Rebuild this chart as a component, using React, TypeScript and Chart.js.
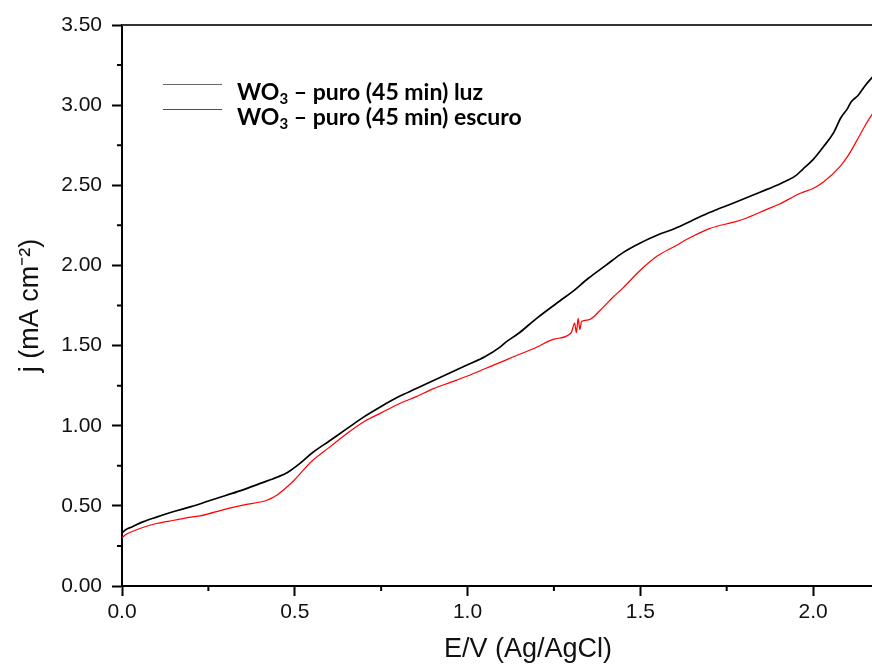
import { useEffect, useRef } from "react";
import { Chart, registerables } from "chart.js";

Chart.register(...registerables);

// Series: WO3 – puro (45 min) luz
const luzE = [0, 0.01, 0.03, 0.06, 0.1, 0.15, 0.2, 0.25, 0.3, 0.35, 0.4, 0.45, 0.48, 0.515, 0.55, 0.6, 0.65, 0.7, 0.75, 0.8, 0.85, 0.9, 0.95, 1.0, 1.05, 1.094, 1.11, 1.15, 1.2, 1.268, 1.3, 1.35, 1.4, 1.45, 1.5, 1.55, 1.6, 1.65, 1.7, 1.77, 1.85, 1.905, 1.95, 1.97, 2.0, 2.03, 2.06, 2.08, 2.1, 2.11, 2.13, 2.15, 2.17, 2.2];
const luzJ = [0.33, 0.35, 0.37, 0.40, 0.43, 0.465, 0.495, 0.53, 0.565, 0.60, 0.64, 0.68, 0.71, 0.765, 0.83, 0.905, 0.98, 1.055, 1.12, 1.18, 1.23, 1.28, 1.33, 1.38, 1.43, 1.49, 1.52, 1.58, 1.67, 1.78, 1.83, 1.92, 2.00, 2.08, 2.14, 2.19, 2.23, 2.28, 2.33, 2.39, 2.46, 2.51, 2.56, 2.60, 2.66, 2.74, 2.83, 2.92, 2.98, 3.02, 3.06, 3.12, 3.17, 3.24];

// Series: WO3 – puro (45 min) escuro
const escuroE = [0, 0.01, 0.03, 0.06, 0.1, 0.15, 0.2, 0.226, 0.3, 0.35, 0.419, 0.45, 0.496, 0.515, 0.55, 0.6, 0.65, 0.7, 0.75, 0.805, 0.85, 0.9, 0.95, 1.0, 1.05, 1.1, 1.133, 1.2, 1.25, 1.3, 1.31, 1.315, 1.32, 1.325, 1.33, 1.35, 1.384, 1.42, 1.45, 1.5, 1.55, 1.6, 1.65, 1.7, 1.77, 1.8, 1.866, 1.9, 1.963, 2.0, 2.03, 2.079, 2.1, 2.127, 2.15, 2.17, 2.2];
const escuroJ = [0.30, 0.32, 0.34, 0.365, 0.39, 0.41, 0.43, 0.437, 0.48, 0.505, 0.535, 0.57, 0.655, 0.70, 0.78, 0.865, 0.95, 1.025, 1.08, 1.14, 1.18, 1.23, 1.27, 1.31, 1.355, 1.40, 1.43, 1.49, 1.54, 1.58, 1.64, 1.58, 1.67, 1.60, 1.65, 1.66, 1.72, 1.80, 1.86, 1.97, 2.06, 2.12, 2.18, 2.23, 2.27, 2.29, 2.35, 2.38, 2.45, 2.48, 2.52, 2.62, 2.68, 2.78, 2.87, 2.94, 3.04];

const xTicks = [0, 0.5, 1.0, 1.5, 2.0];
const yTicks = [0, 0.5, 1.0, 1.5, 2.0, 2.5, 3.0, 3.5];
const xMinor = [0.25, 0.75, 1.25, 1.75, 2.25];
const yMinor = [0.25, 0.75, 1.25, 1.75, 2.25, 2.75, 3.25];

const legendItems = [
  { main: "WO", sub: "3", rest: " – puro (45 min) luz", color: "#6a6a6a" },
  { main: "WO", sub: "3", rest: " – puro (45 min) escuro", color: "#e01010" },
];

const AXIS_FONT = "'Liberation Sans', Arial, sans-serif";

export default function App() {
  const ref = useRef<HTMLCanvasElement | null>(null);

  useEffect(() => {
    document.body.style.margin = "0";
    const canvas = ref.current;
    if (!canvas) return;

    const extras = {
      id: "extras",
      afterDraw(chart: any) {
        const ctx = chart.ctx;
        const area = chart.chartArea;
        const xs = chart.scales.x;
        const ys = chart.scales.y;
        ctx.save();
        ctx.strokeStyle = "#000";
        ctx.lineWidth = 2;
        // minor ticks
        ctx.beginPath();
        for (const v of xMinor) {
          const px = xs.getPixelForValue(v);
          ctx.moveTo(px, area.bottom);
          ctx.lineTo(px, area.bottom + 5);
        }
        for (const v of yMinor) {
          const py = ys.getPixelForValue(v);
          ctx.moveTo(area.left, py);
          ctx.lineTo(area.left - 5, py);
        }
        ctx.stroke();
        // top frame line
        ctx.strokeStyle = "#333";
        ctx.lineWidth = 1.8;
        ctx.beginPath();
        ctx.moveTo(area.left, area.top);
        ctx.lineTo(area.right, area.top);
        ctx.stroke();

        // legend
        const lx = area.left + 41;
        const ly = area.top + 59;
        legendItems.forEach((it, i) => {
          const yLine = ly + i * 25;
          ctx.strokeStyle = it.color;
          ctx.lineWidth = 1;
          ctx.beginPath();
          ctx.moveTo(lx, yLine + 0.5);
          ctx.lineTo(lx + 59, yLine + 0.5);
          ctx.stroke();
          const base = yLine + 16;
          let tx = lx + 74;
          ctx.fillStyle = "#000";
          ctx.textBaseline = "alphabetic";
          ctx.textAlign = "left";
          ctx.font = "bold 23px Lato, 'Open Sans', sans-serif";
          ctx.fillText(it.main, tx, base);
          tx += ctx.measureText(it.main).width;
          ctx.font = "bold 15px Lato, 'Open Sans', sans-serif";
          ctx.fillText(it.sub, tx, base + 4);
          tx += ctx.measureText(it.sub).width;
          ctx.font = "bold 23px Lato, 'Open Sans', sans-serif";
          ctx.fillText(it.rest, tx, base);
        });
        ctx.restore();
      },
    };

    const chart = new Chart(canvas, {
      type: "scatter",
      data: {
        datasets: [
          {
            label: "WO3 – puro (45 min) luz",
            data: luzE.map((e, i) => ({ x: e, y: luzJ[i] })),
            showLine: true,
            borderColor: "#000000",
            backgroundColor: "#000000",
            borderWidth: 1.7,
            pointRadius: 0,
            cubicInterpolationMode: "monotone",
          },
          {
            label: "WO3 – puro (45 min) escuro",
            data: escuroE.map((e, i) => ({ x: e, y: escuroJ[i] })),
            showLine: true,
            borderColor: "#ff0000",
            backgroundColor: "#ff0000",
            borderWidth: 1.2,
            pointRadius: 0,
            cubicInterpolationMode: "monotone",
          },
        ],
      },
      options: {
        animation: false,
        responsive: false,
        devicePixelRatio: 1,
        layout: { padding: { top: 25, right: 6, left: 0, bottom: 0 } },
        plugins: { legend: { display: false }, tooltip: { enabled: false } },
        scales: {
          x: {
            type: "linear",
            position: "bottom",
            min: 0,
            max: 2.35,
            afterBuildTicks: (s: any) => {
              s.ticks = xTicks.map((v) => ({ value: v }));
            },
            afterFit: (s: any) => {
              s.height = 80;
            },
            grid: { drawOnChartArea: false, tickLength: 10, tickWidth: 2, tickColor: "#000" },
            border: { color: "#000", width: 2 },
            ticks: {
              color: "#111",
              font: { family: AXIS_FONT, size: 21 },
              padding: 4,
              maxRotation: 0,
              autoSkip: false,
              callback: (v: any) => Number(v).toFixed(1),
            },
            title: {
              display: true,
              text: "E/V (Ag/AgCl)",
              color: "#111",
              font: { family: AXIS_FONT, size: 27 },
              padding: { top: 0, bottom: 0 },
            },
          },
          y: {
            type: "linear",
            position: "left",
            min: 0,
            max: 3.5,
            afterBuildTicks: (s: any) => {
              s.ticks = yTicks.map((v) => ({ value: v }));
            },
            afterFit: (s: any) => {
              s.width = 122;
            },
            grid: { drawOnChartArea: false, tickLength: 10, tickWidth: 2, tickColor: "#000" },
            border: { color: "#000", width: 2 },
            ticks: {
              color: "#111",
              font: { family: AXIS_FONT, size: 21 },
              padding: 10,
              autoSkip: false,
              callback: (v: any) => Number(v).toFixed(2),
            },
            title: {
              display: true,
              text: "j (mA cm⁻²)",
              color: "#111",
              font: { family: AXIS_FONT, size: 27 },
              padding: { top: 14, bottom: 0 },
            },
          },
        },
      },
      plugins: [extras],
    } as any);

    return () => chart.destroy();
  }, []);

  return (
    <div style={{ width: 872, height: 666, overflow: "hidden", position: "relative" }}>
      <canvas ref={ref} width={940} height={666} style={{ display: "block" }} />
    </div>
  );
}
